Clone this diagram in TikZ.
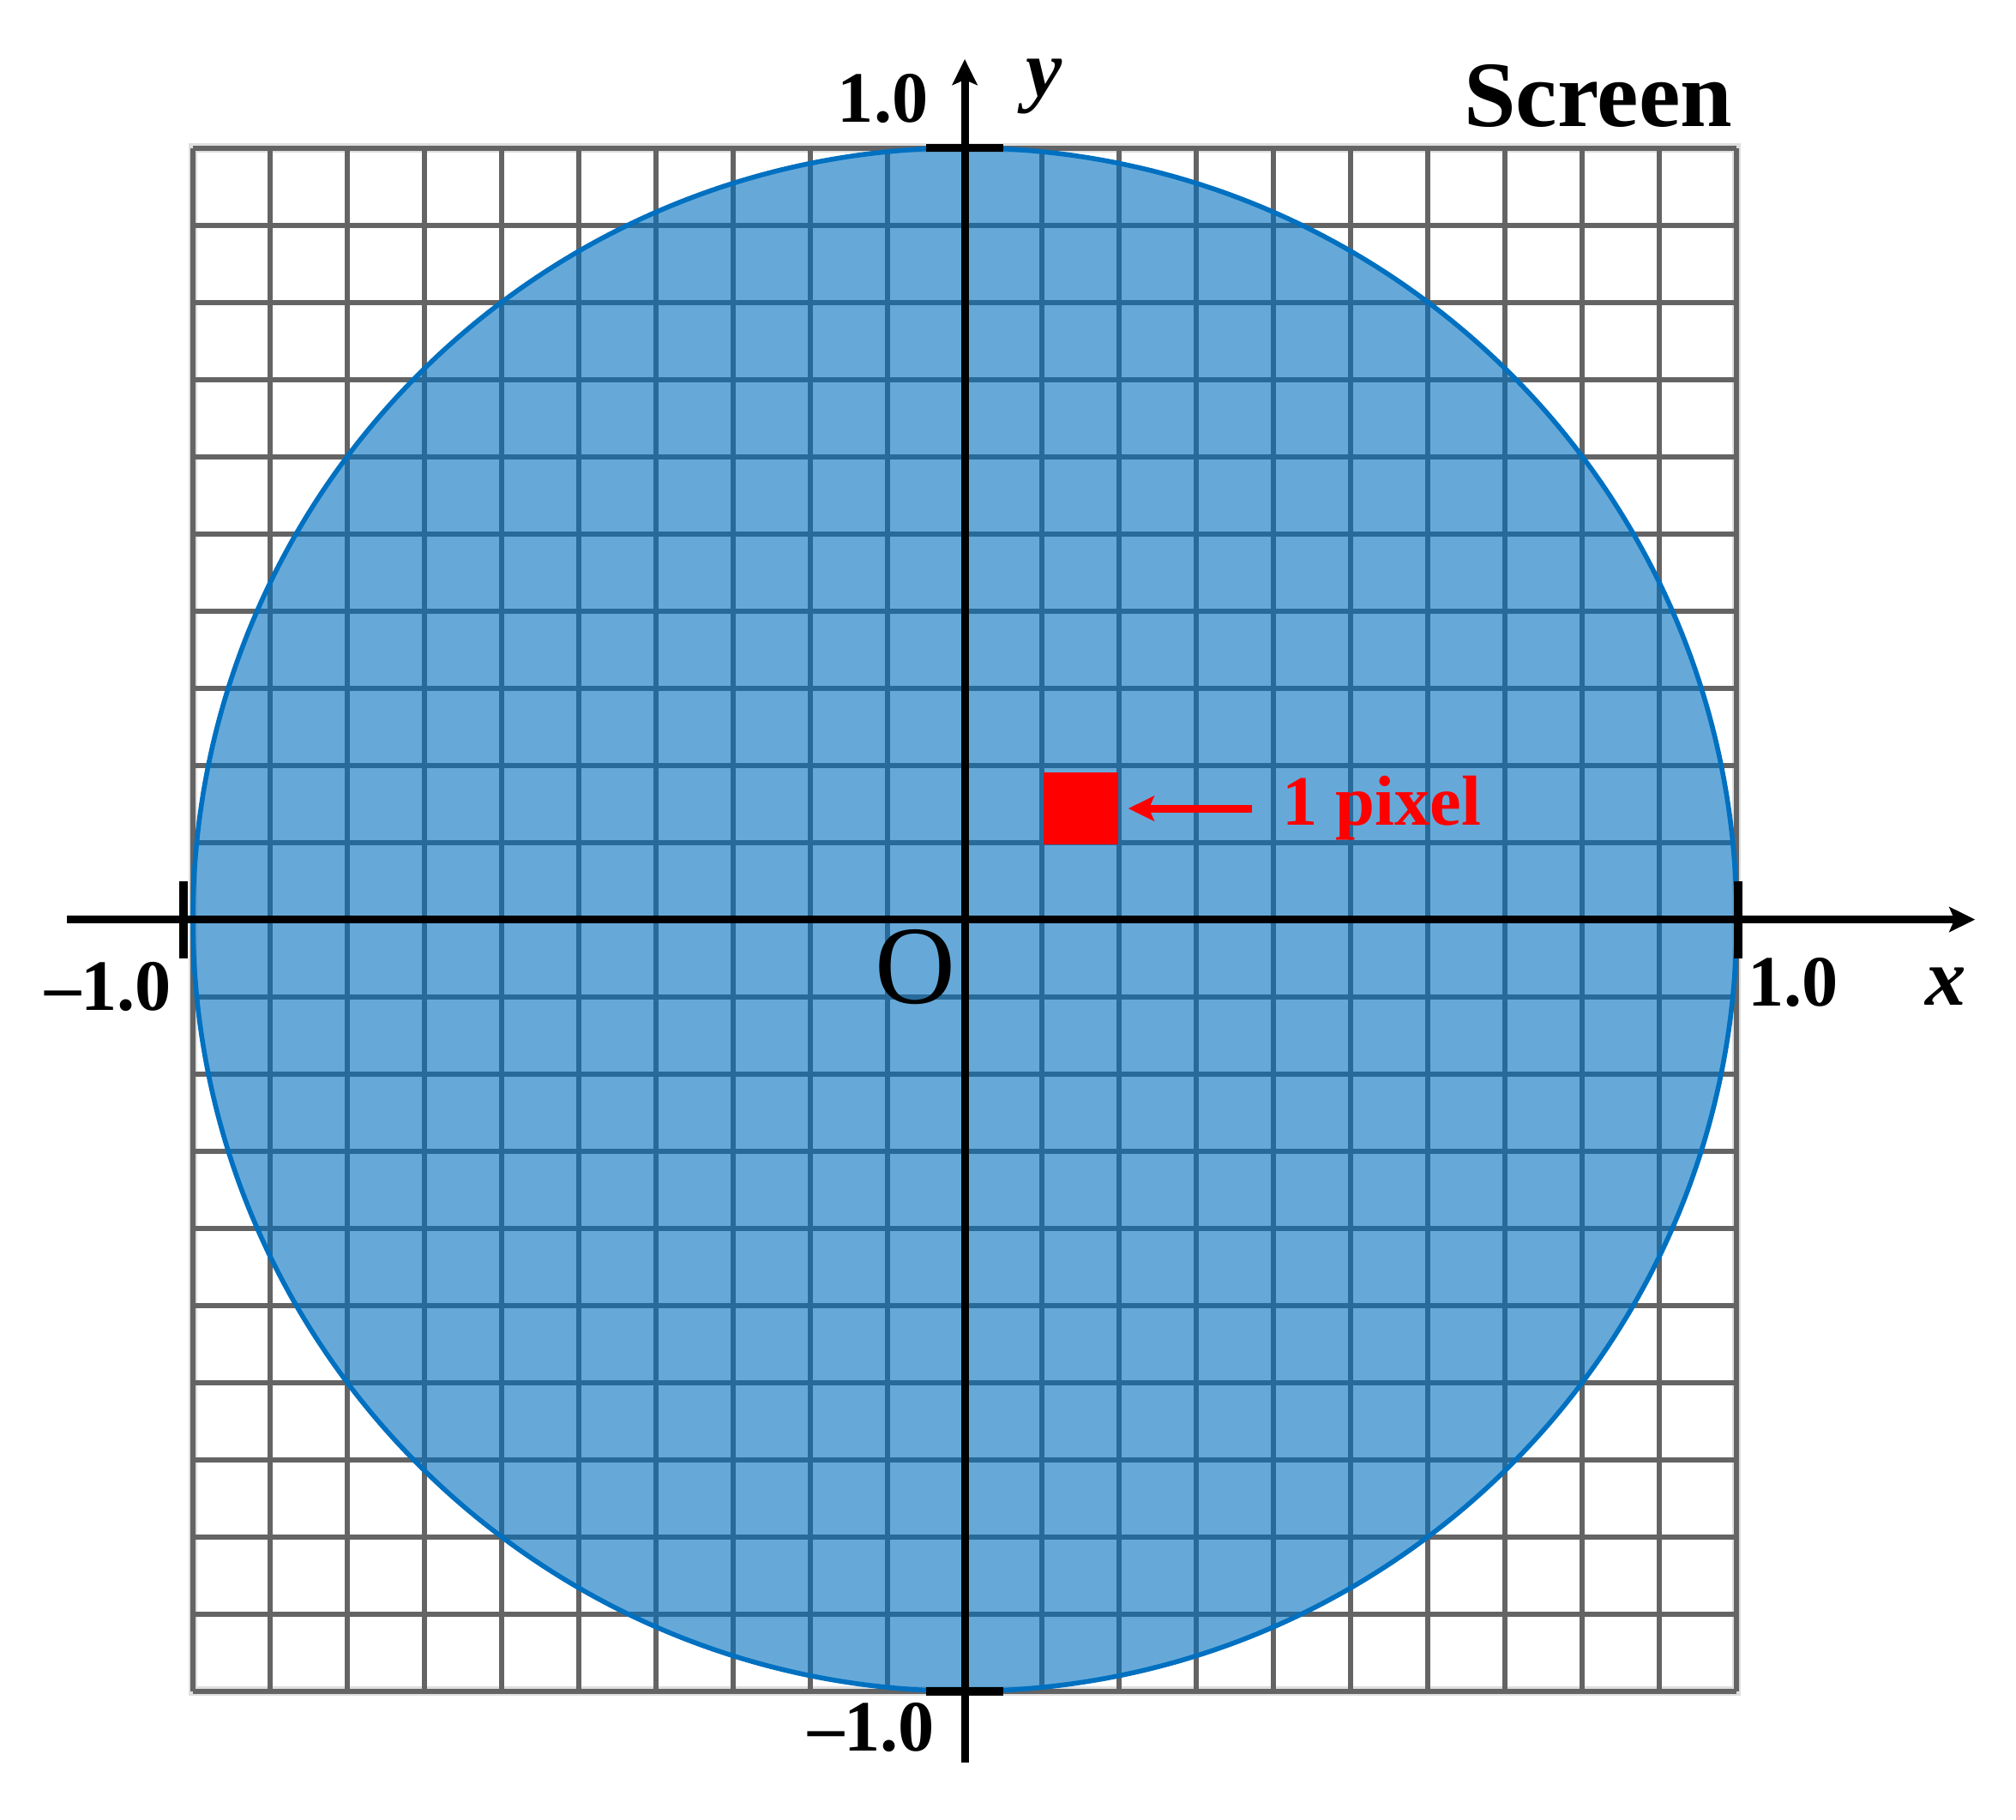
\documentclass[tikz,border=0pt]{standalone}
\usepackage{fontspec}
\setmainfont{Liberation Serif}
\usetikzlibrary{positioning, arrows.meta}
\definecolor{circblue}{RGB}{0,112,192}
\definecolor{gridgray}{RGB}{100,100,100}

\begin{document}
\begin{tikzpicture}[
        x=9cm, y=9cm,
        every node/.style={inner sep=0pt},
        gridline/.style={draw=gridgray, line width=1.7pt},
        axis/.style={line width=2.6pt, -{Stealth[length=3mm, width=2.9mm, inset=0.6mm]}},
        tick/.style={line width=2.8pt},
        ticklabel/.style={font=\fontsize{24}{24}\selectfont\bfseries},
        axislabel/.style={font=\fontsize{27}{27}\selectfont\bfseries\itshape},
        pixel/.style={rectangle, fill=red, minimum width=0.87cm, minimum height=0.84cm},
        pixlabel/.style={text=red, font=\fontsize{23.5}{24}\selectfont\bfseries},
        redarrow/.style={draw=red, line width=2.6pt, -{Stealth[length=3mm, width=2.9mm, inset=0.6mm]}}
    ]
        \useasboundingbox (-1.25,-1.166) rectangle (1.362,1.1917);

        % screen grid
        \draw[gray!25, line width=3pt] (-1,-1) rectangle (1,1);
        \foreach \i in {-10,...,10} {
            \draw[gridline] (\i/10,-1) -- (\i/10,1);
            \draw[gridline] (-1,\i/10) -- (1,\i/10);
        }

        % unit circle
        \filldraw[fill=circblue, fill opacity=0.6, draw=circblue, line width=1.6pt] (0,0) circle (1);

        % axes and ticks
        \draw[axis] (-1.163,0) -- (1.309,0);
        \draw[axis] (0,-1.093) -- (0,1.115);
        \draw[tick] (-1.012,-0.05) -- (-1.012,0.05);
        \draw[tick] (1.002,-0.05) -- (1.002,0.05);
        \draw[tick] (-0.05,1) -- (0.05,1);
        \draw[tick] (-0.05,-1) -- (0.05,-1);

        \node[ticklabel] (ytop) at (-0.106,1.064) {1.0};
        \node[ticklabel] (ybot) at (-0.121,-1.047) {--1.0};
        \node[ticklabel] (xleft) at (-1.11,-0.087) {--1.0};
        \node[ticklabel] (xright) at (1.073,-0.082) {1.0};
        \node[axislabel] (xlab) at (1.271,-0.087) {x};
        \node[axislabel] (ylab) at (0.103,1.08) {y};
        \node[font=\fontsize{37}{37}\selectfont] (origin) at (-0.064,-0.062) {O};
        \node[font=\fontsize{31}{31}\selectfont\bfseries] (screen) at (0.8206,1.067) {Screen};

        % one pixel
        \node[pixel] (px) at (0.1506,0.1439) {};
        \node[pixlabel, right=1.9cm of px] (pxlab) {1 pixel};
        \draw[redarrow, shorten <=0.35cm, shorten >=0.11cm] (pxlab.west |- px.east) -- (px.east);
    \end{tikzpicture}
\end{document}
